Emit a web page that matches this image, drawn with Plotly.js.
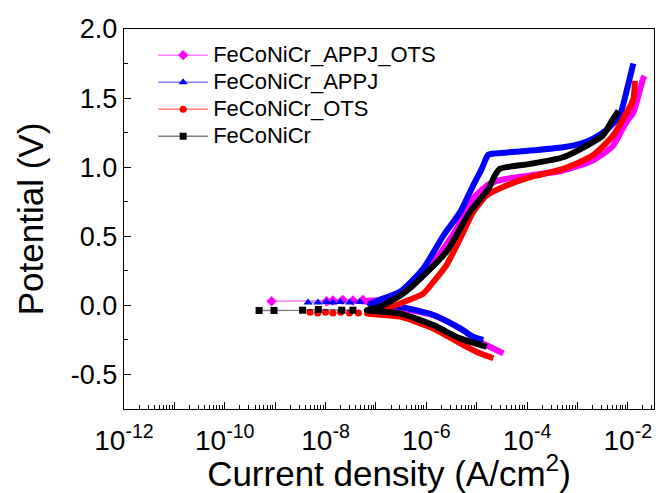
<!DOCTYPE html>
<html>
<head>
<meta charset="utf-8">
<script src="https://cdn.plot.ly/plotly-3.0.1.min.js"></script>
<style>html,body{margin:0;padding:0;background:#fff;}#chart{width:656px;height:493px;}</style>
</head>
<body>
<div id="chart"></div>
<script>
// Series names
const seriesNames = ['FeCoNiCr_APPJ_OTS', 'FeCoNiCr_APPJ', 'FeCoNiCr_OTS', 'FeCoNiCr'];

// FeCoNiCr_APPJ_OTS (magenta) - dense branch: cathodic tip -> Ecorr -> anodic end
const magDenseI = [3.4e-5, 2.45e-5, 1.15e-5, 4.7e-6, 1.38e-6, 3.0e-7, 1.0e-7, 6.0e-8, 1.2e-7, 3.0e-7, 5.5e-7, 1.58e-6, 4.0e-6, 8.5e-6, 1.8e-5, 3.9e-5, 1.15e-4, 5.2e-4, 2.0e-3, 5.1e-3, 9.3e-3, 1.29e-2, 2.0e-2, 2.14e-2];
const magDenseE = [-0.347, -0.323, -0.263, -0.167, -0.070, -0.022, 0.010, 0.030, 0.040, 0.080, 0.146, 0.338, 0.555, 0.772, 0.880, 0.916, 0.940, 0.976, 1.048, 1.156, 1.325, 1.397, 1.637, 1.660];
const magTailI = [8.5e-10, 1.05e-8, 1.4e-8, 2.2e-8, 3.5e-8, 5.5e-8];
const magTailE = [0.030, 0.030, 0.035, 0.040, 0.035, 0.040];

// FeCoNiCr_APPJ (blue)
const bluDenseI = [1.35e-5, 8.5e-6, 4.7e-6, 1.38e-6, 3.0e-7, 7.6e-8, 1.2e-7, 3.0e-7, 8.7e-7, 2.2e-6, 4.7e-6, 8.5e-6, 1.26e-5, 1.7e-5, 2.45e-5, 1.15e-4, 5.2e-4, 1.12e-3, 2.0e-3, 3.8e-3, 6.9e-3, 9.3e-3, 1.29e-2];
const bluDenseE = [-0.251, -0.227, -0.167, -0.070, -0.010, 0.010, 0.040, 0.098, 0.266, 0.507, 0.675, 0.867, 0.988, 1.090, 1.100, 1.120, 1.144, 1.168, 1.204, 1.270, 1.372, 1.541, 1.750];
const bluTailI = [4.5e-9, 7.1e-9, 1.05e-8, 1.4e-8, 1.95e-8, 3.0e-8, 4.8e-8];
const bluTailE = [0.020, 0.020, 0.025, 0.020, 0.025, 0.020, 0.025];

// FeCoNiCr_OTS (red)
const redDenseI = [2.14e-5, 1.15e-5, 4.7e-6, 1.38e-6, 3.0e-7, 6.6e-8, 1.2e-7, 3.0e-7, 8.7e-7, 1.38e-6, 2.5e-6, 4.7e-6, 8.5e-6, 1.58e-5, 3.9e-5, 1.15e-4, 5.2e-4, 2.0e-3, 5.1e-3, 8.1e-3, 1.29e-2, 1.38e-2];
const redDenseE = [-0.383, -0.347, -0.275, -0.167, -0.082, -0.058, -0.040, 0.014, 0.085, 0.170, 0.290, 0.483, 0.675, 0.795, 0.867, 0.928, 0.988, 1.084, 1.228, 1.350, 1.493, 1.625];
const redTailI = [4.9e-9, 7.0e-9, 1.0e-8, 1.4e-8, 2.0e-8, 3.0e-8, 4.5e-8];
const redTailE = [-0.050, -0.055, -0.050, -0.055, -0.050, -0.055, -0.055];

// FeCoNiCr (black)
const blkDenseI = [1.58e-5, 4.7e-6, 1.38e-6, 3.0e-7, 6.6e-8, 1.2e-7, 3.0e-7, 5.5e-7, 2.5e-6, 7.3e-6, 1.8e-5, 2.2e-5, 2.9e-5, 3.9e-5, 1.15e-4, 5.2e-4, 2.0e-3, 3.2e-3, 5.1e-3, 6.5e-3];
const blkDenseE = [-0.299, -0.239, -0.143, -0.058, -0.035, -0.010, 0.070, 0.146, 0.387, 0.675, 0.855, 0.928, 0.988, 1.000, 1.024, 1.072, 1.180, 1.228, 1.350, 1.408];
const blkTailI = [4.8e-10, 9.5e-10, 3.5e-9, 7.2e-9, 2.1e-8, 3.5e-8];
const blkTailE = [-0.037, -0.037, -0.035, -0.030, -0.035, -0.035];

// Axis ticks
const xTickVals = [1e-12, 1e-11, 1e-10, 1e-9, 1e-8, 1e-7, 1e-6, 1e-5, 1e-4, 1e-3, 1e-2];
const xTickLabels = ['10<sup>-12</sup>', '', '10<sup>-10</sup>', '', '10<sup>-8</sup>', '', '10<sup>-6</sup>', '', '10<sup>-4</sup>', '', '10<sup>-2</sup>'];
const yTickVals = [-0.5, 0.0, 0.5, 1.0, 1.5, 2.0];
const yTickLabels = ['-0.5', '0.0', '0.5', '1.0', '1.5', '2.0'];

const xMinor = [];
for (let k = -12; k <= -2; k++) {
  for (let m = 2; m <= 9; m++) {
    const v = m * Math.pow(10, k);
    if (Math.log10(v) < -1.48) xMinor.push(v);
  }
}

const styles = [
  {color: '#FF00FF', light: 'rgba(255,0,255,0.5)', symbol: 'diamond', size: 8},
  {color: '#0000FF', light: 'rgba(0,0,255,0.5)', symbol: 'triangle-up', size: 8},
  {color: '#FF0000', light: 'rgba(255,0,0,0.5)', symbol: 'circle', size: 7},
  {color: '#000000', light: 'rgba(0,0,0,0.5)', symbol: 'square', size: 7}
];
const dense = [[magDenseI, magDenseE], [bluDenseI, bluDenseE], [redDenseI, redDenseE], [blkDenseI, blkDenseE]];
const tails = [[magTailI, magTailE], [bluTailI, bluTailE], [redTailI, redTailE], [blkTailI, blkTailE]];

const traces = [];
for (let s = 0; s < 4; s++) {
  const st = styles[s];
  traces.push({
    x: dense[s][0], y: dense[s][1], type: 'scatter', mode: 'lines',
    line: {color: st.color, width: 6, shape: 'spline', smoothing: 0.6},
    showlegend: false, hoverinfo: 'skip'
  });
  traces.push({
    x: tails[s][0], y: tails[s][1], type: 'scatter', mode: 'lines+markers',
    name: '<span style="font-size:22px">' + seriesNames[s] + '</span>',
    line: {color: st.light, width: 1.5},
    marker: {color: st.color, symbol: st.symbol, size: st.size},
    showlegend: true
  });
}

const layout = {
  width: 656, height: 493,
  margin: {l: 124, r: 2, t: 29, b: 84},
  paper_bgcolor: '#ffffff', plot_bgcolor: '#ffffff',
  font: {family: '"Liberation Sans", Arial, sans-serif', color: '#000'},
  showlegend: true,
  legend: {
    x: 0.055, y: 0.98, xanchor: 'left', yanchor: 'top',
    bgcolor: 'rgba(0,0,0,0)', borderwidth: 0,
    font: {size: 18.5, color: '#000'}, tracegroupgap: 0, itemwidth: 50
  },
  xaxis: {
    type: 'log', range: [-12, -1.48],
    tickmode: 'array', tickvals: xTickVals, ticktext: xTickLabels,
    ticks: 'inside', ticklen: 7, tickwidth: 1, tickcolor: '#000',
    minor: {tickmode: 'array', tickvals: xMinor, ticks: 'inside', ticklen: 4, tickwidth: 1, tickcolor: '#000', showgrid: false},
    showline: true, linecolor: '#000', linewidth: 1.3, mirror: true,
    showgrid: false, zeroline: false,
    tickfont: {size: 28}, ticklabelstandoff: 6,
    title: {text: 'Current density (A/cm<sup>2</sup>)', font: {size: 35}, standoff: 18}
  },
  yaxis: {
    range: [-0.75, 2.0],
    tickmode: 'array', tickvals: yTickVals, ticktext: yTickLabels,
    ticks: 'inside', ticklen: 7, tickwidth: 1, tickcolor: '#000',
    minor: {dtick: 0.25, ticks: 'inside', ticklen: 4, tickwidth: 1, tickcolor: '#000', showgrid: false},
    showline: true, linecolor: '#000', linewidth: 1.3, mirror: true,
    showgrid: false, zeroline: false,
    tickfont: {size: 27},
    title: {text: 'Potential (V)', font: {size: 35}, standoff: 16}
  }
};

Plotly.newPlot('chart', traces, layout, {displayModeBar: false, staticPlot: true});
</script>
</body>
</html>
